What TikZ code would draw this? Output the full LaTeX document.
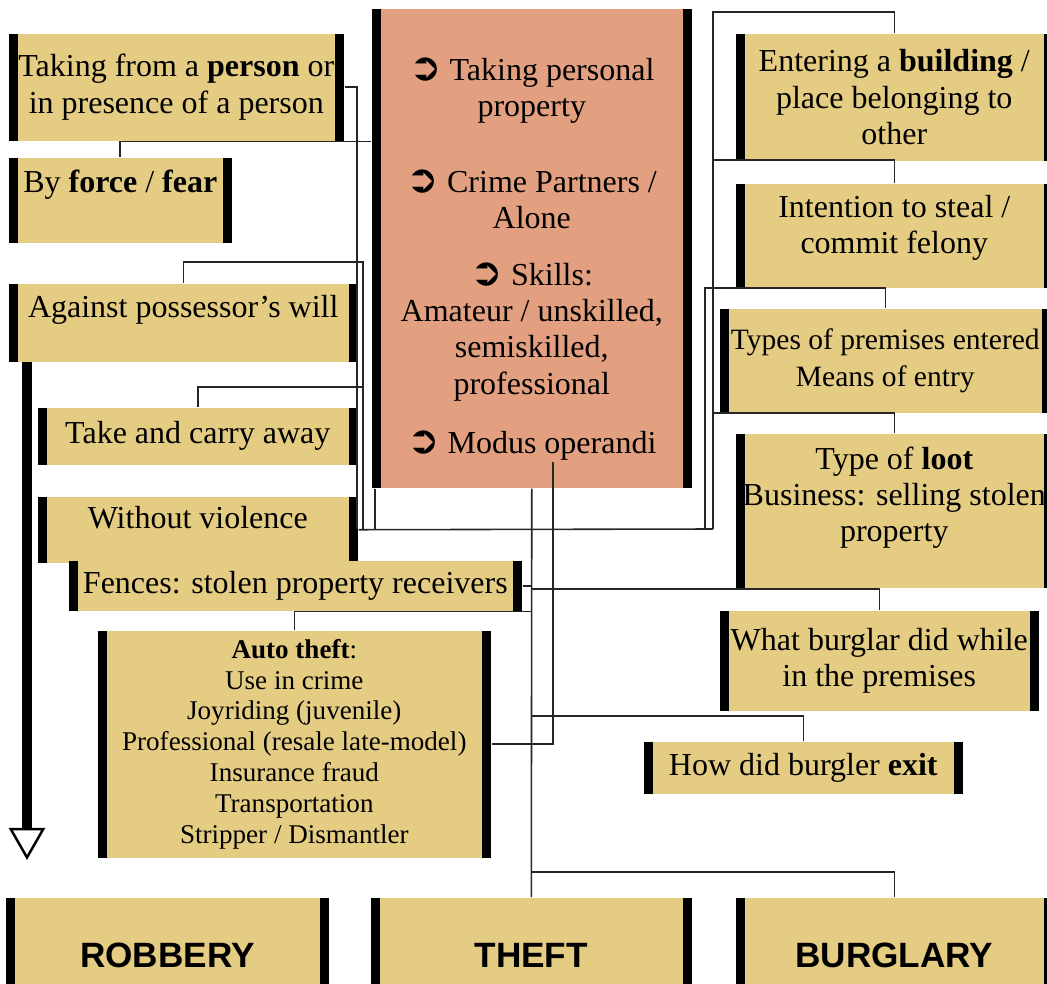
\documentclass[tikz,border=0pt]{standalone}
\usepackage{fontspec}
\setmainfont{Liberation Serif}
\newfontfamily\headfont{Liberation Sans}
\newfontfamily\dingfont{DejaVu Sans}
\usetikzlibrary{arrows.meta}
\definecolor{gold}{RGB}{229,204,131}
\definecolor{salmon}{RGB}{226,160,128}
\newcommand{\mobullet}{{\dingfont\fontsize{11}{11}\selectfont\char"27B2}}

\tikzset{
  factbox/.style={fill=gold, inner sep=0pt, anchor=north west, align=center,
    font=\fontsize{9.1}{10.3}\selectfont,
    path picture={
      \fill[black] (path picture bounding box.south west) rectangle ([xshift=0.09cm]path picture bounding box.north west);
      \fill[black] (path picture bounding box.south east) rectangle ([xshift=-0.09cm]path picture bounding box.north east);
    }},
  headbox/.style={factbox, font=\headfont\bfseries\fontsize{10}{11}\selectfont},
  wire/.style={draw=black!85, line width=0.45pt},
}

\begin{document}
\begin{tikzpicture}[x=0.01cm, y=-0.01cm]
    \clip (0,0) rectangle (1047,984);

    % middle column
    \node[factbox, fill=salmon, minimum width=3.20cm, minimum height=4.79cm] (centre) at (371,8)
        {\rule{0pt}{0.44cm}\mobullet{} Taking personal\\property\\[0.39cm]\mobullet{} Crime Partners /\\Alone\\[0.21cm]\mobullet{} Skills:\\Amateur / unskilled,\\semiskilled,\\professional\\[0.23cm]\mobullet{} Modus operandi};

    % robbery side
    \node[factbox, minimum width=3.35cm, minimum height=1.07cm] (person) at (8,33)
        {Taking from a \textbf{person} or\\in presence of a person};
    \node[factbox, minimum width=2.23cm, minimum height=0.85cm, text depth=0.37cm] (force) at (8,157)
        {By \textbf{force} / \textbf{fear}};
    \node[factbox, minimum width=3.49cm, minimum height=0.78cm, text depth=0.32cm] (will) at (8,283)
        {Against possessor’s will};
    \node[factbox, minimum width=3.20cm, minimum height=0.57cm] (carry) at (37,407)
        {Take and carry away};
    \node[factbox, minimum width=3.20cm, minimum height=0.66cm, text depth=0.24cm] (violence) at (37,496)
        {Without violence};
    \node[factbox, minimum width=4.53cm, minimum height=0.50cm] (fences) at (68,560)
        {Fences: stolen property receivers};
    \node[factbox, minimum width=3.93cm, minimum height=2.27cm, font=\fontsize{7.7}{8.8}\selectfont] (auto) at (97,630)
        {\textbf{Auto theft}:\\Use in crime\\Joyriding (juvenile)\\Professional (resale late-model)\\Insurance fraud\\Transportation\\Stripper / Dismantler};

    % burglary side
    \node[factbox, minimum width=3.17cm, minimum height=1.27cm] (building) at (735,33)
        {Entering a \textbf{building} /\\place belonging to\\other};
    \node[factbox, minimum width=3.17cm, minimum height=1.04cm, text depth=0.23cm] (intent) at (735,183)
        {Intention to steal /\\commit felony};
    \node[factbox, minimum width=3.31cm, minimum height=1.04cm, font=\fontsize{8.4}{10.6}\selectfont] (premises) at (719,308)
        {Types of premises entered\\Means of entry};
    \node[factbox, minimum width=3.17cm, minimum height=1.54cm, text depth=0.33cm] (loot) at (735,433)
        {Type of \textbf{loot}\\Business: selling stolen\\property};
    \node[factbox, minimum width=3.19cm, minimum height=1.00cm] (what) at (719,610)
        {What burglar did while\\in the premises};
    \node[factbox, minimum width=3.19cm, minimum height=0.52cm] (exit) at (643,741)
        {How did burgler \textbf{exit}};

    % crimes
    \node[headbox, minimum width=3.23cm, minimum height=1.16cm] (robbery) at (5,897) {ROBBERY};
    \node[headbox, minimum width=3.21cm, minimum height=1.16cm] (theft) at (370,897) {THEFT};
    \node[headbox, minimum width=3.17cm, minimum height=1.16cm] (burglary) at (735,897) {BURGLARY};

    \coordinate (jA) at (357,529);
    \coordinate (jB) at (363,529);
    \coordinate (jC) at (375,529);
    \coordinate (jR1) at (713,529);
    \coordinate (jR2) at (705,529);
    \coordinate (modus) at (553,462);
    \coordinate (tip) at (27,860);

    % left links
    \draw[wire] (person.east) -| (jA);
    \draw[wire] (force.north) |- (person.south -| centre.west);
    \draw[wire] (will.north) -- ++(0,-21) -| (jB);
    \draw[wire] (carry.north) -- ++(0,-20) -| (jB);
    \draw[wire] (centre.south -| jC) -- (jC);
    \draw[wire] (violence.east) -- (jR1);

    % right links
    \draw[wire] (building.north) -- ++(0,-21) -| (jR1);
    \draw[wire] (intent.north) -- ++(0,-23) -| (jR1);
    \draw[wire] (premises.north) -- ++(0,-20) -| (jR2);
    \draw[wire] (loot.north) -- ++(0,-20) -| (jR1);

    % lower links
    \draw[wire] (centre.south) -- (theft.north);
    \draw[wire] (burglary.north) -- ++(0,-25) -| (theft.north);
    \draw[wire] (what.north) -- ++(0,-21) -| (theft.north);
    \draw[wire] (exit.north) -- ++(0,-25) -| (theft.north);
    \draw[wire] (fences.east) -- (fences.east -| theft.north);
    \draw[wire] (auto.north) |- (fences.south -| theft.north);
    \draw[wire] (auto.east) -| (modus);

    \draw[line width=0.1cm, -{Triangle[open,length=0.32cm,width=0.36cm,line width=0.7pt]}] (will.south -| tip) -- (tip);

\end{tikzpicture}
\end{document}
